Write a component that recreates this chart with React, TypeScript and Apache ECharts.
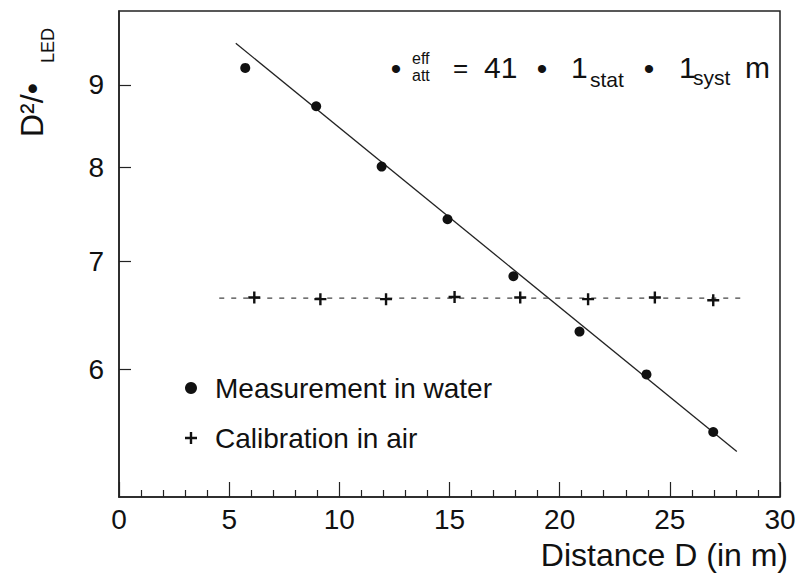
import React, { useEffect, useRef } from "react";
import * as echarts from "echarts";

// ---- data ----
const waterDistance = [5.73, 8.95, 11.92, 14.91, 17.9, 20.9, 23.94, 26.97];
const waterRatio = [9.22, 8.73, 8.01, 7.43, 6.85, 6.33, 5.955, 5.486];

const airDistance = [6.14, 9.14, 12.12, 15.23, 18.21, 21.29, 24.32, 26.97];
const airRatio = [6.645, 6.63, 6.63, 6.65, 6.645, 6.63, 6.645, 6.62];

const fitDistance = [5.3, 28.04];
const fitRatio = [9.55, 5.335];

const airLevelDistance = [4.55, 28.45];
const airLevelRatio = [6.64, 6.64];

const xMin = 0;
const xMax = 30;
const xInterval = 5;
const yMin = 5;
const yMax = 10;
const yTickValues = [6, 7, 8, 9];

const FONT = '"Liberation Sans", Arial, Helvetica, sans-serif';
const INK = "#111";
const CROSS = "path://M4.8,0H7.2V4.8H12V7.2H7.2V12H4.8V7.2H0V4.8H4.8Z";

// the y axis is logarithmic: values are mapped through ln before being handed to the axis
const ln = (v: number) => Math.log(v);
const pairs = (xs: number[], ys: number[]) => xs.map((x, i) => [x, ln(ys[i])]);

export default function App() {
  const ref = useRef<HTMLDivElement>(null);

  useEffect(() => {
    document.body.style.margin = "0";
    if (!ref.current) return;
    const chart = echarts.init(ref.current, undefined, { renderer: "svg" });

    const t = (text: string, x: number, y: number, size: number, align = "left", extra: any = {}) => ({
      type: "text",
      x,
      y,
      silent: true,
      ...extra,
      style: {
        text,
        fontFamily: FONT,
        fontSize: size,
        fill: INK,
        align,
        verticalAlign: "middle",
      },
    });

    chart.setOption({
      animation: false,
      backgroundColor: "#fff",
      grid: {
        left: 119,
        right: 21,
        top: 11,
        bottom: 76,
        show: true,
        borderColor: "#222",
        borderWidth: 1.5,
        backgroundColor: "transparent",
        containLabel: false,
        outerBoundsMode: "none",
      },
      xAxis: {
        type: "value",
        min: xMin,
        max: xMax,
        interval: xInterval,
        axisLine: { show: true, lineStyle: { color: "#222", width: 1.5 } },
        axisTick: { show: true, inside: true, length: 15, lineStyle: { color: "#222", width: 1.2 } },
        minorTick: { show: true, splitNumber: 5, length: 7, lineStyle: { color: "#222", width: 1.2 } },
        splitLine: { show: false },
        minorSplitLine: { show: false },
        axisLabel: { fontFamily: FONT, fontSize: 28, color: INK, margin: 8 },
      },
      yAxis: {
        type: "value",
        min: ln(yMin),
        max: ln(yMax),
        axisLine: { show: true, lineStyle: { color: "#222", width: 1.5 } },
        axisTick: {
          show: true,
          inside: true,
          length: 12,
          customValues: yTickValues.map(ln),
          lineStyle: { color: "#222", width: 1.2 },
        },
        splitLine: { show: false },
        axisLabel: {
          fontFamily: FONT,
          fontSize: 28,
          color: INK,
          margin: 15,
          customValues: yTickValues.map(ln),
          formatter: (v: number) => String(Math.round(Math.exp(v))),
        },
      },
      legend: {
        orient: "vertical",
        left: 180,
        top: 369,
        itemWidth: 12,
        itemHeight: 12,
        itemGap: 22,
        selectedMode: false,
        itemStyle: { opacity: 1 },
        textStyle: { fontFamily: FONT, fontSize: 28, color: INK, padding: [0, 0, 0, 13] },
        data: [
          { name: "Measurement in water", icon: "circle" },
          { name: "Calibration in air", icon: CROSS },
        ],
      },
      series: [
        {
          name: "fit",
          type: "line",
          data: pairs(fitDistance, fitRatio),
          symbol: "none",
          lineStyle: { color: "#222", width: 1.3 },
          z: 2,
        },
        {
          name: "air level",
          type: "line",
          data: pairs(airLevelDistance, airLevelRatio),
          symbol: "none",
          lineStyle: { color: "#444", width: 1.3, type: [5, 7] },
          z: 2,
        },
        {
          name: "Measurement in water",
          type: "scatter",
          data: pairs(waterDistance, waterRatio),
          symbol: "circle",
          symbolSize: 10,
          itemStyle: { color: INK, opacity: 1 },
          z: 3,
        },
        {
          name: "Calibration in air",
          type: "scatter",
          data: pairs(airDistance, airRatio),
          symbol: CROSS,
          symbolSize: 12,
          itemStyle: { color: INK, opacity: 1 },
          z: 3,
        },
      ],
      graphic: [
        // x axis title
        t("Distance D (in m)", 788, 555, 32, "right"),
        // y axis title (rotated)
        t("D\u00B2/\u2022", 31.5, 137, 32, "left", { rotation: Math.PI / 2 }),
        t("LED", 47.5, 63, 18, "left", { rotation: Math.PI / 2 }),
        // fit result annotation
        t("\u2022", 396, 68, 30, "center"),
        t("eff", 412, 58, 16),
        t("att", 412, 75, 16),
        t("=", 453, 68, 26),
        t("41", 484, 67.6, 30),
        t("\u2022", 542, 68, 30, "center"),
        t("1", 571, 67.6, 30),
        t("stat", 590, 79, 21),
        t("\u2022", 649, 68, 30, "center"),
        t("1", 679, 67.6, 30),
        t("syst", 693, 77, 21),
        t("m", 745, 67.6, 30),
      ],
    });

    return () => chart.dispose();
  }, []);

  return <div ref={ref} style={{ width: 801, height: 573 }} />;
}
